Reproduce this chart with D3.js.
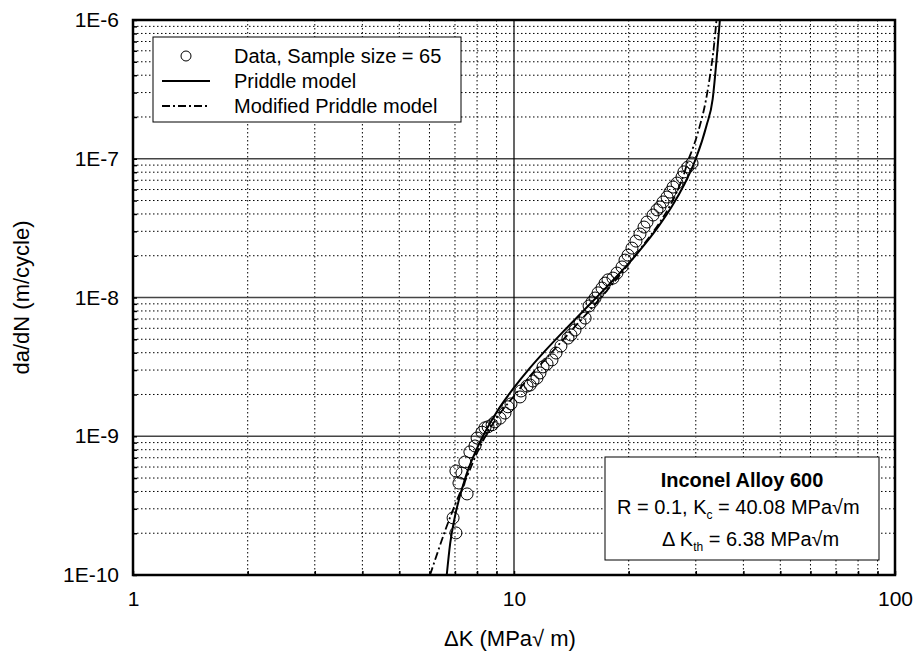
<!DOCTYPE html>
<html>
<head>
<meta charset="utf-8">
<script src="https://cdn.jsdelivr.net/npm/d3@7"></script>
<style>
  body { margin: 0; background: #fff; }
  svg { font-family: "Liberation Sans", Arial, Helvetica, sans-serif; }
</style>
</head>
<body>
<div id="chart"></div>
<script>
// Measured crack growth data (ΔK in MPa√m, da/dN in m/cycle)
const deltaK = [6.92, 7.04, 7.04, 7.17, 7.30, 7.43, 7.53, 7.66, 7.90, 8.00,
  8.24, 8.39, 8.55, 8.76, 8.92, 9.19, 9.47, 9.64, 9.82, 10.37,
  10.43, 10.82, 11.02, 11.22, 11.49, 11.70, 11.92, 12.21, 12.58, 12.89,
  13.28, 13.86, 14.11, 14.46, 14.91, 15.37, 15.74, 16.03, 16.32, 16.62,
  17.02, 17.34, 17.65, 18.19, 18.63, 19.21, 19.56, 19.92, 20.40, 20.90,
  21.41, 21.94, 22.34, 23.17, 23.73, 24.16, 24.61, 25.21, 25.67, 26.15,
  26.78, 27.60, 27.93, 28.62, 29.33];
const growthRate = [2.58e-10, 2.01e-10, 5.62e-10, 4.60e-10, 5.43e-10, 6.52e-10, 3.84e-10, 7.71e-10, 8.51e-10, 9.71e-10,
  1.07e-9, 1.15e-9, 1.17e-9, 1.21e-9, 1.27e-9, 1.35e-9, 1.47e-9, 1.63e-9, 1.71e-9, 1.92e-9,
  2.12e-9, 2.30e-9, 2.34e-9, 2.50e-9, 2.63e-9, 2.86e-9, 3.16e-9, 3.32e-9, 3.55e-9, 3.98e-9,
  4.47e-9, 5.10e-9, 5.37e-9, 5.83e-9, 6.55e-9, 7.11e-9, 8.69e-9, 9.29e-9, 9.91e-9, 1.08e-8,
  1.17e-8, 1.27e-8, 1.34e-8, 1.38e-8, 1.50e-8, 1.66e-8, 1.86e-8, 2.02e-8, 2.27e-8, 2.55e-8,
  2.87e-8, 3.22e-8, 3.50e-8, 3.93e-8, 4.28e-8, 4.49e-8, 4.88e-8, 5.30e-8, 5.75e-8, 6.25e-8,
  6.68e-8, 7.38e-8, 8.04e-8, 8.73e-8, 9.31e-8];

// Priddle model curve
const priddleK = [6.66, 6.8, 7.0, 7.5, 8.0, 9.0, 10, 11, 12, 13.5, 15, 18, 20, 22, 24, 26, 28, 29, 30, 32, 33.23, 34.17, 34.7];
const priddleRate = [1.0e-10, 1.69e-10, 2.65e-10, 5.3e-10, 8.2e-10, 1.49e-9, 2.24e-9, 3.1e-9, 4.06e-9, 5.72e-9, 7.7e-9, 1.29e-8, 1.76e-8, 2.4e-8, 3.28e-8, 4.56e-8, 6.55e-8, 8.0e-8, 1.0e-7, 1.73e-7, 2.7e-7, 6.0e-7, 1.0e-6];

// Modified Priddle model curve
const modifiedK = [6.02, 6.3, 6.6, 7.0, 7.5, 8.0, 8.5, 9, 10, 11, 12, 14, 16, 18, 20, 22, 24, 26, 27, 28, 28.6, 29.5, 30.5, 31.9, 32.8, 33.4, 34.0];
const modifiedRate = [1.0e-10, 1.45e-10, 2.1e-10, 3.2e-10, 5.0e-10, 7.6e-10, 1.05e-9, 1.35e-9, 1.95e-9, 2.7e-9, 3.5e-9, 5.6e-9, 8.4e-9, 1.22e-8, 1.75e-8, 2.45e-8, 3.4e-8, 4.9e-8, 6.1e-8, 7.9e-8, 9.6e-8, 1.2e-7, 1.6e-7, 2.65e-7, 4.2e-7, 6.1e-7, 1.0e-6];

const xTickValues = [1, 10, 100];
const xTickLabels = ['1', '10', '100'];
const yTickValues = [1e-10, 1e-9, 1e-8, 1e-7, 1e-6];
const yTickLabels = ['1E-10', '1E-9', '1E-8', '1E-7', '1E-6'];
const legendLabels = ['Data, Sample size = 65', 'Priddle model', 'Modified Priddle model'];

const width = 917;
const height = 654;
const plotLeft = 133, plotRight = 895, plotTop = 20, plotBottom = 575;
const dashDot = '8,3,2,3';

const svg = d3.select('#chart')
  .append('svg')
  .attr('width', width)
  .attr('height', height);

const x = d3.scaleLog().domain([1, 100]).range([plotLeft, plotRight]);
const y = d3.scaleLog().domain([1e-10, 1e-6]).range([plotBottom, plotTop]);

const isDecade = (v) => Math.abs(Math.log10(v) - Math.round(Math.log10(v))) < 1e-9;
const xMinor = x.ticks().filter((d) => !isDecade(d));
const yMinor = y.ticks().filter((d) => !isDecade(d));

// Minor dotted grid
const grid = svg.append('g');
grid.selectAll('.vminor')
  .data(xMinor)
  .join('line')
  .attr('x1', (d) => x(d)).attr('x2', (d) => x(d))
  .attr('y1', plotTop).attr('y2', plotBottom)
  .attr('stroke', '#000')
  .attr('stroke-width', 1)
  .attr('stroke-dasharray', '1.5,2.5');
grid.selectAll('.hminor')
  .data(yMinor)
  .join('line')
  .attr('x1', plotLeft).attr('x2', plotRight)
  .attr('y1', (d) => y(d)).attr('y2', (d) => y(d))
  .attr('stroke', '#000')
  .attr('stroke-width', 1)
  .attr('stroke-dasharray', '1.5,2.5');

// Major solid grid
grid.selectAll('.hmajor')
  .data(yTickValues.slice(1, -1))
  .join('line')
  .attr('x1', plotLeft).attr('x2', plotRight)
  .attr('y1', (d) => y(d)).attr('y2', (d) => y(d))
  .attr('stroke', '#444')
  .attr('stroke-width', 1.5);
grid.selectAll('.vmajor')
  .data(xTickValues.slice(1, -1))
  .join('line')
  .attr('x1', (d) => x(d)).attr('x2', (d) => x(d))
  .attr('y1', plotTop).attr('y2', plotBottom)
  .attr('stroke', '#000')
  .attr('stroke-width', 1.2);

// Inner tick marks on the bottom and left axes
svg.append('g')
  .attr('transform', `translate(0,${plotBottom})`)
  .call(d3.axisBottom(x).tickValues(x.ticks()).tickSize(-4).tickFormat(''))
  .call((g) => g.select('.domain').remove())
  .call((g) => g.selectAll('.tick line').attr('stroke-width', 1.5));
svg.append('g')
  .attr('transform', `translate(${plotLeft},0)`)
  .call(d3.axisLeft(y).tickValues(y.ticks()).tickSize(-4).tickFormat(''))
  .call((g) => g.select('.domain').remove())
  .call((g) => g.selectAll('.tick line').attr('stroke-width', 1.5));

// Tick labels
svg.append('g')
  .attr('transform', `translate(0,${plotBottom})`)
  .call(d3.axisBottom(x).tickValues(xTickValues).tickSize(0).tickPadding(16)
    .tickFormat((d, i) => xTickLabels[i]))
  .call((g) => g.select('.domain').remove())
  .call((g) => g.selectAll('.tick text')
    .attr('font-size', 21).attr('fill', '#000')
    .attr('font-family', '"Liberation Sans", Arial, sans-serif'));
svg.append('g')
  .attr('transform', `translate(${plotLeft},0)`)
  .call(d3.axisLeft(y).tickValues(yTickValues).tickSize(0).tickPadding(14)
    .tickFormat((d, i) => yTickLabels[i]))
  .call((g) => g.select('.domain').remove())
  .call((g) => g.selectAll('.tick text')
    .attr('font-size', 21).attr('fill', '#000')
    .attr('font-family', '"Liberation Sans", Arial, sans-serif'));

// Axis titles
svg.append('text')
  .attr('x', 510).attr('y', 646)
  .attr('text-anchor', 'middle')
  .attr('font-size', 22)
  .text('\u0394K (MPa\u221A m)');
svg.append('text')
  .attr('transform', `translate(29,${(plotTop + plotBottom) / 2}) rotate(-90)`)
  .attr('text-anchor', 'middle')
  .attr('font-size', 22)
  .text('da/dN (m/cycle)');

// Model curves
const line = d3.line()
  .x((d) => x(d[0]))
  .y((d) => y(d[1]))
  .curve(d3.curveMonotoneX);

const plot = svg.append('g');
plot.append('path')
  .datum(priddleK.map((k, i) => [k, priddleRate[i]]))
  .attr('d', line)
  .attr('fill', 'none')
  .attr('stroke', '#000')
  .attr('stroke-width', 2);
plot.append('path')
  .datum(modifiedK.map((k, i) => [k, modifiedRate[i]]))
  .attr('d', line)
  .attr('fill', 'none')
  .attr('stroke', '#000')
  .attr('stroke-width', 1.8)
  .attr('stroke-dasharray', dashDot);

// Data points
plot.selectAll('circle')
  .data(deltaK.map((k, i) => [k, growthRate[i]]))
  .join('circle')
  .attr('cx', (d) => x(d[0]))
  .attr('cy', (d) => y(d[1]))
  .attr('r', 6)
  .attr('fill', 'none')
  .attr('stroke', '#000')
  .attr('stroke-width', 1);

// Plot frame
svg.append('rect')
  .attr('x', plotLeft).attr('y', plotTop)
  .attr('width', plotRight - plotLeft).attr('height', plotBottom - plotTop)
  .attr('fill', 'none')
  .attr('stroke', '#000')
  .attr('stroke-width', 2.5);

// Legend
const legend = svg.append('g');
legend.append('rect')
  .attr('x', 153).attr('y', 37)
  .attr('width', 308).attr('height', 85)
  .attr('fill', '#fff')
  .attr('stroke', '#000')
  .attr('stroke-width', 1);
legend.append('circle')
  .attr('cx', 186).attr('cy', 56).attr('r', 5)
  .attr('fill', 'none').attr('stroke', '#000').attr('stroke-width', 1);
legend.append('line')
  .attr('x1', 162).attr('x2', 210).attr('y1', 81).attr('y2', 81)
  .attr('stroke', '#000').attr('stroke-width', 2);
legend.append('line')
  .attr('x1', 162).attr('x2', 210).attr('y1', 106).attr('y2', 106)
  .attr('stroke', '#000').attr('stroke-width', 1.8)
  .attr('stroke-dasharray', dashDot);
legend.selectAll('.legend-label')
  .data(legendLabels)
  .join('text')
  .attr('x', 234)
  .attr('y', (d, i) => 63 + i * 25)
  .attr('font-size', 20)
  .text((d) => d);

// Material note
const note = svg.append('g');
note.append('rect')
  .attr('x', 605).attr('y', 457)
  .attr('width', 274).attr('height', 103)
  .attr('fill', '#fff')
  .attr('stroke', '#000')
  .attr('stroke-width', 1);
note.append('text')
  .attr('x', 742).attr('y', 487)
  .attr('text-anchor', 'middle')
  .attr('font-size', 20)
  .attr('font-weight', 'bold')
  .text('Inconel Alloy 600');
const line2 = note.append('text')
  .attr('x', 617).attr('y', 514)
  .attr('font-size', 20);
line2.append('tspan').text('R = 0.1, K');
line2.append('tspan').attr('font-size', 12).attr('dy', 5).text('c');
line2.append('tspan').attr('dy', -5).text(' = 40.08 MPa\u221Am');
const line3 = note.append('text')
  .attr('x', 662).attr('y', 546)
  .attr('font-size', 20);
line3.append('tspan').text('\u0394 K');
line3.append('tspan').attr('font-size', 12).attr('dy', 5).text('th');
line3.append('tspan').attr('dy', -5).text(' = 6.38 MPa\u221Am');
</script>
</body>
</html>
